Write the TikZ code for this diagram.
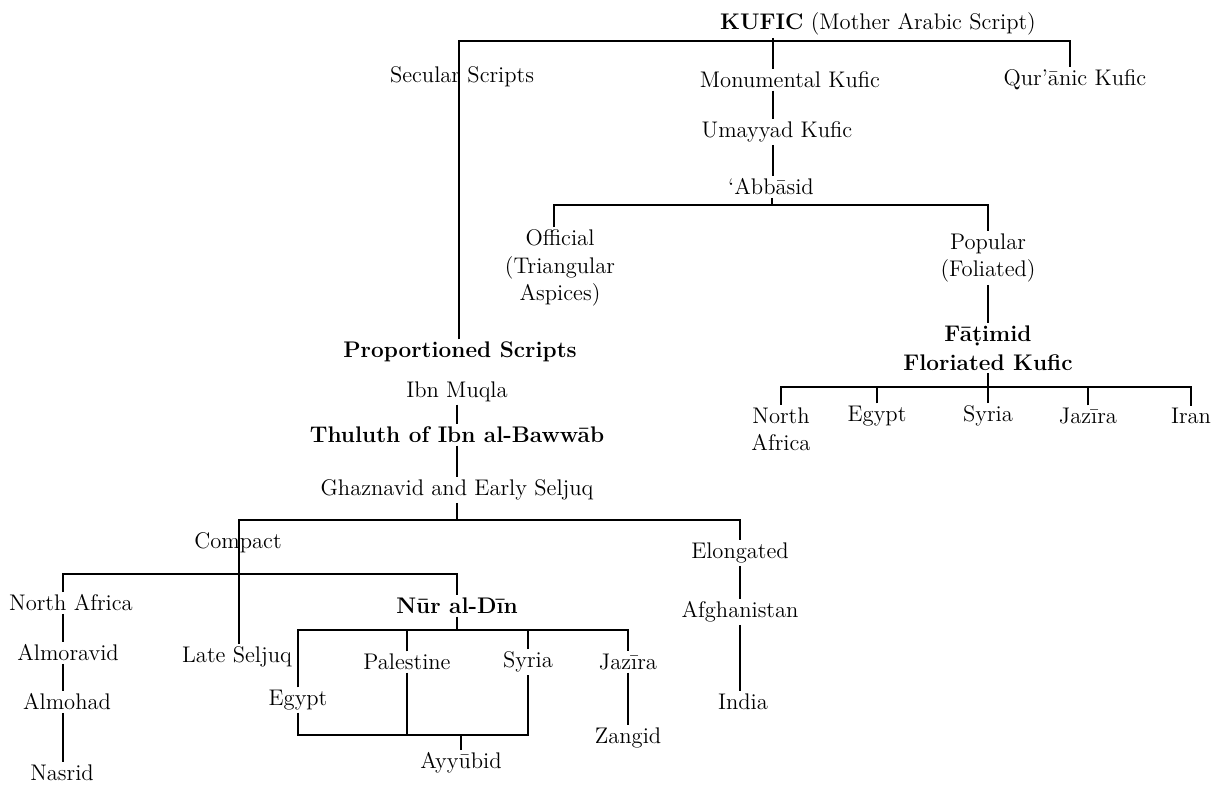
\documentclass[tikz,border=0pt]{standalone}
\usepackage{tikz}

\begin{document}
\begin{tikzpicture}[
    x=0.5pt, y=-0.5pt,
    line width=0.6pt,
    script node/.style={inner sep=1pt, align=center, font=\fontsize{11.3}{13.7}\selectfont},
    bold node/.style={script node, font=\fontsize{11.3}{14.3}\selectfont\bfseries}
]
    \useasboundingbox (0,0) rectangle (1223,785);

    \node[script node] (kufic) at (878,24) {\textbf{KUFIC} (Mother Arabic Script)};
    \node[script node] (secular) at (462,77) {Secular Scripts};
    \node[script node] (monum) at (790,80) {Monumental Kufic};
    \node[script node] (quran) at (1075,80) {Qur’ānic Kufic};
    \node[script node] (umayyad) at (777,132) {Umayyad Kufic};
    \node[script node] (abbasid) at (771,187) {‘Abbāsid};
    \node[script node] (official) at (560,268) {Official\\(Triangular\\Aspices)};
    \node[script node] (popular) at (988,258) {Popular\\(Foliated)};
    \node[bold node] (fatimid) at (988,348) {Fā\d{t}imid\\Floriated Kufic};
    \node[script node, anchor=north] (fnafrica) at (781,405) {North\\Africa};
    \node[script node] (fegypt) at (877,416) {Egypt};
    \node[script node] (fsyria) at (988,416) {Syria};
    \node[script node] (fjazira) at (1088,416) {Jazīra};
    \node[script node] (firan) at (1191,416) {Iran};

    \node[bold node] (props) at (460,352) {Proportioned Scripts};
    \node[script node] (muqla) at (457,392) {Ibn Muqla};
    \node[bold node] (thuluth) at (457,435) {Thuluth of Ibn al-Bawwāb};
    \node[script node] (ghazna) at (457,490) {Ghaznavid and Early Seljuq};
    \node[script node] (compact) at (238,543) {Compact};
    \node[script node] (elong) at (740,553) {Elongated};
    \node[script node] (afghan) at (740,612) {Afghanistan};
    \node[script node] (india) at (743,702) {India};
    \node[script node] (nafrica) at (71,603) {North Africa};
    \node[script node] (almoravid) at (68,653) {Almoravid};
    \node[script node] (almohad) at (67,702) {Almohad};
    \node[script node] (nasrid) at (62,773) {Nasrid};
    \node[script node] (late) at (237,657) {Late Seljuq};
    \node[bold node] (nur) at (457,606) {Nūr al-Dīn};
    \node[script node] (egypt) at (298,700) {Egypt};
    \node[script node] (palest) at (407,662) {Palestine};
    \node[script node] (syria) at (528,662) {Syria};
    \node[script node] (jazira) at (628,662) {Jazīra};
    \node[script node] (zangid) at (628,738) {Zangid};
    \node[script node] (ayyubid) at (461,763) {Ayyūbid};

    \coordinate (k1) at (459,41);
    \coordinate (k2) at (773,41);
    \coordinate (k3) at (1070,41);
    \coordinate (a1) at (554,205);
    \coordinate (a2) at (772,205);
    \coordinate (a3) at (988,205);
    \coordinate (f1) at (781,387);
    \coordinate (f2) at (1191,387);
    \coordinate (g1) at (239,520);
    \coordinate (g2) at (740,520);
    \coordinate (c1) at (63,574);
    \coordinate (c2) at (457,574);
    \coordinate (n1) at (298,630);
    \coordinate (n2) at (628,630);
    \coordinate (b1) at (298,735);
    \coordinate (b2) at (528,735);

    \draw (k1 |- props.north) -- (k1) -- (k3) -- (k3 |- quran.north);
    \draw (k2 |- kufic.south) -- (k2 |- monum.north);
    \draw (k2 |- monum.south) -- (k2 |- umayyad.north);
    \draw (k2 |- umayyad.south) -- (k2 |- abbasid.north);
    \draw (a2 |- abbasid.south) -- (a2);
    \draw (a1 |- official.north) -- (a1) -- (a3) -- (popular.north);
    \draw (popular.south) -- (fatimid.north);
    \draw (fatimid.south) -- (fatimid.south |- f1);
    \draw (fnafrica.north) -- (f1) -- (f2) -- (firan.north);
    \foreach \n in {fegypt, fsyria, fjazira}
        \draw (\n.north) -- (\n.north |- f1);

    \draw (muqla.south) -- (thuluth.north);
    \draw (thuluth.south) -- (ghazna.north);
    \draw (ghazna.south) -- (ghazna.south |- g1);
    \draw (g1 |- late.north) -- (g1) -- (g2) -- (elong.north);
    \draw (elong.south) -- (afghan.north);
    \draw (afghan.south) -- (afghan.south |- india.north);
    \draw (c1 |- nafrica.north) -- (c1) -- (c2) -- (nur.north);
    \draw (c1 |- nafrica.south) -- (c1 |- almoravid.north);
    \draw (c1 |- almoravid.south) -- (c1 |- almohad.north);
    \draw (c1 |- almohad.south) -- (c1 |- nasrid.north);
    \draw (nur.south) -- (nur.south |- n1);
    \draw (egypt.north) -- (n1) -- (n2) -- (jazira.north);
    \draw (palest.north) -- (palest.north |- n1);
    \draw (syria.north) -- (syria.north |- n1);
    \draw (egypt.south) -- (b1) -- (b2) -- (syria.south);
    \draw (palest.south) -- (palest.south |- b1);
    \draw (ayyubid.north) -- (ayyubid.north |- b1);
    \draw (jazira.south) -- (zangid.north);
\end{tikzpicture}
\end{document}
